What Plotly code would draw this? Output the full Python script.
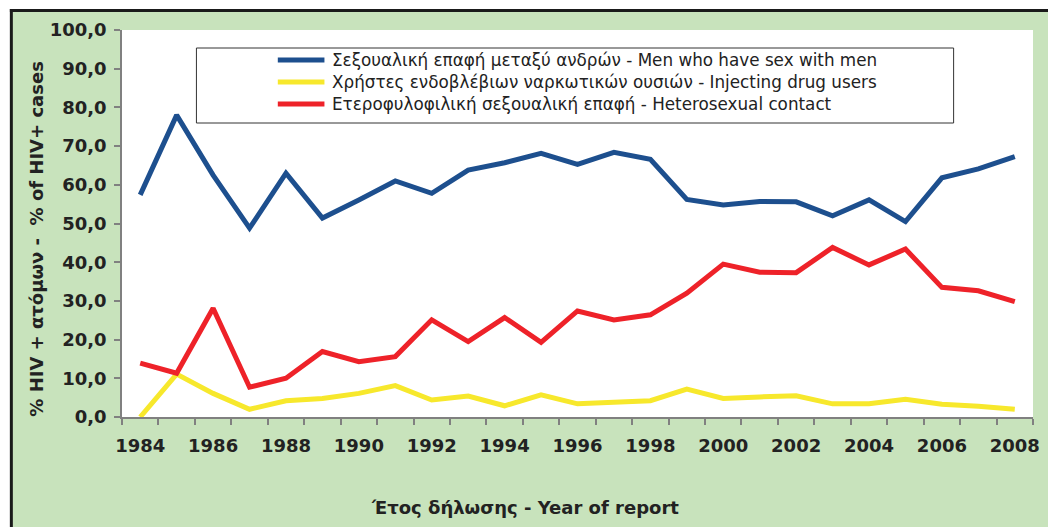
import plotly.graph_objects as go

years = list(range(1984, 2009))
msm = [57.4, 78.0, 62.5, 48.8, 63.0, 51.4, 56.1, 61.0, 57.8, 63.8, 65.7, 68.1, 65.3,
       68.4, 66.6, 56.2, 54.8, 55.7, 55.6, 52.0, 56.1, 50.5, 61.8, 64.1, 67.3]
idu = [0.0, 11.1, 6.1, 2.0, 4.2, 4.8, 6.1, 8.1, 4.4, 5.4, 2.9, 5.7, 3.4,
       3.7, 4.2, 7.2, 4.8, 5.2, 5.5, 3.4, 3.4, 4.6, 3.3, 2.8, 2.0]
het = [13.9, 11.3, 28.1, 7.7, 10.0, 16.9, 14.3, 15.6, 25.1, 19.5, 25.7, 19.3, 27.4,
       25.1, 26.4, 32.0, 39.5, 37.4, 37.3, 43.8, 39.3, 43.4, 33.5, 32.6, 29.8]

names = [
    "Σεξουαλική επαφή μεταξύ ανδρών - Men who have sex with men",
    "Χρήστες ενδοβλέβιων ναρκωτικών ουσιών - Injecting drug users",
    "Ετεροφυλοφιλική σεξουαλική επαφή - Heterosexual contact",
]
colors = ["#1D4F8E", "#F7E82C", "#EE2229"]
series = [msm, idu, het]

x_title = "Έτος δήλωσης - Year of report"
y_title = "% HIV + ατόμων -  % of HIV+ cases"
x_tick_labels = [str(y) for y in range(1984, 2009, 2)]
y_ticks = [0, 10, 20, 30, 40, 50, 60, 70, 80, 90, 100]

W, H = 1048, 527
L, R, T, B = 122, 8, 30, 110
PW = W - L - R
PH = H - T - B


def px(x):
    return (x - L) / PW


def py(y):
    return (H - B - y) / PH


fig = go.Figure()
for vals, name, col in zip(series, names, colors):
    fig.add_trace(go.Scatter(x=years, y=vals, mode="lines", name=name,
                             line=dict(color=col, width=5), showlegend=False))

green = "#C8E3BC"
shapes = []
# white outer strips
shapes.append(dict(type="rect", xref="paper", yref="paper", x0=px(-5), x1=px(10), y0=py(540), y1=py(-5),
                   fillcolor="white", line=dict(width=0), layer="above"))
shapes.append(dict(type="rect", xref="paper", yref="paper", x0=px(-5), x1=px(1060), y0=py(10), y1=py(-5),
                   fillcolor="white", line=dict(width=0), layer="above"))
# black frame lines
shapes.append(dict(type="line", xref="paper", yref="paper", x0=px(10.5), x1=px(10.5), y0=py(540), y1=py(9),
                   line=dict(color="#1a1a1a", width=3), layer="above"))
shapes.append(dict(type="line", xref="paper", yref="paper", x0=px(9), x1=px(1060), y0=py(10.5), y1=py(10.5),
                   line=dict(color="#1a1a1a", width=3), layer="above"))
# legend box
shapes.append(dict(type="rect", xref="paper", yref="paper", x0=px(197), x1=px(960), y0=py(123), y1=py(48),
                   fillcolor="white", line=dict(color="#333333", width=1), layer="above"))

annotations = []
row_y = [60, 82, 104]
for name, col, ry in zip(names, colors, row_y):
    shapes.append(dict(type="line", xref="paper", yref="paper", x0=px(279), x1=px(326), y0=py(ry), y1=py(ry),
                       line=dict(color=col, width=5), layer="above"))
    annotations.append(dict(text=name, xref="paper", yref="paper", x=px(332), y=py(ry),
                            xanchor="left", yanchor="middle", showarrow=False,
                            font=dict(family="DejaVu Sans", size=16.8, color="#222222")))

annotations.append(dict(text=x_title, xref="paper", yref="paper", x=px(528), y=py(507),
                        xanchor="center", yanchor="middle", showarrow=False,
                        font=dict(family="DejaVu Sans", size=18, color="#222222", weight="bold")))
annotations.append(dict(text=y_title, xref="paper", yref="paper", x=px(35), y=py(239),
                        xanchor="center", yanchor="middle", showarrow=False, textangle=-90,
                        font=dict(family="DejaVu Sans", size=18, color="#222222", weight="bold")))

fig.update_layout(
    width=W, height=H,
    margin=dict(l=L, r=R, t=T, b=B),
    paper_bgcolor=green,
    plot_bgcolor="white",
    separators=",.",
    shapes=shapes,
    annotations=annotations,
    showlegend=False,
)
fig.update_xaxes(
    range=[1983.5, 2008.5],
    tickvals=list(range(1984, 2009, 2)),
    ticktext=x_tick_labels,
    ticks="", showgrid=False, zeroline=False,
    showline=True, linecolor="#808080", linewidth=1.5,
    ticklabelstandoff=12,
    tickfont=dict(family="DejaVu Sans", size=18, color="#222222", weight="bold"),
    minor=dict(tickvals=[y + 0.5 for y in range(1983, 2009)], ticks="outside",
               ticklen=6, tickcolor="#808080", tickwidth=1.5, showgrid=False),
)
fig.update_yaxes(
    range=[0, 100],
    tickvals=y_ticks,
    tickformat=".1f",
    ticks="outside", ticklen=6, tickcolor="#808080", tickwidth=1.5,
    showgrid=False, zeroline=False,
    showline=True, linecolor="#808080", linewidth=1.5,
    ticklabelstandoff=4,
    tickfont=dict(family="DejaVu Sans", size=18, color="#222222", weight="bold"),
)

fig.write_html("out.html", config={"displayModeBar": False},
               post_script="document.body.style.margin='0';document.body.style.overflow='hidden';")
